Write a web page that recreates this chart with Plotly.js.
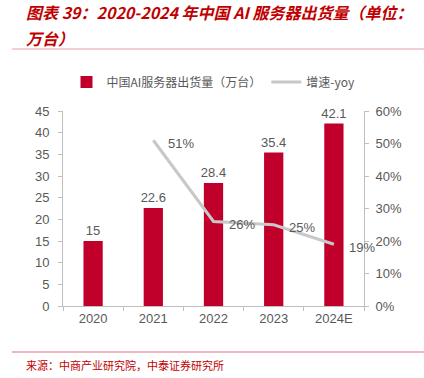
<!DOCTYPE html>
<html><head><meta charset="utf-8">
<script src="https://cdn.plot.ly/plotly-3.0.1.min.js"></script>
<style>html,body{margin:0;padding:0;background:#fff;}#c{width:424px;height:378px;}</style>
</head><body><div id="c"></div>
<script>
const categories = ['2020','2021','2022','2023','2024E'];
const shipments = [15, 22.6, 28.4, 35.4, 42.1];
const yoyCats = ['2021','2022','2023','2024E'];
const yoy = [51, 26, 25, 19];
const leftTicks = [0,5,10,15,20,25,30,35,40,45];
const rightTicks = [0,10,20,30,40,50,60];

const red = '#C0002A';
const gray = '#C8C8C8';
const axisGray = '#BFBFBF';
const txt = '#595959';
const font = '"Noto Sans CJK SC", "Liberation Sans", Arial, sans-serif';
const lat = '"Liberation Sans", Arial, sans-serif';

const traces = [
  {type:'bar', x:categories, y:shipments, name:'中国AI服务器出货量（万台）',
   marker:{color:red}, width:0.32,
   text:shipments.map(v=>String(v)), textposition:'outside', cliponaxis:false, constraintext:'none',
   textfont:{color:txt, size:13, family:lat}},
  {type:'scatter', mode:'lines', x:yoyCats, y:yoy, yaxis:'y2', name:'增速-yoy',
   line:{color:gray, width:3}}
];

// annotations use category index (numeric-looking category strings are misread)
const annotations = yoyCats.map((c,i)=>({x:categories.indexOf(c), y:yoy[i], yref:'y2', xref:'x',
  text:yoy[i]+'%', showarrow:false, xanchor:'left', xshift:13, yshift:-3,
  font:{color:txt, size:13, family:lat}}));

annotations.push({xref:'paper', yref:'paper', x:-0.13, y:1 + (111-12)/195, yanchor:'middle', xanchor:'left', showarrow:false,
  text:'<b><i>图表 39：2020-2024 年中国 AI 服务器出货量（单位：</i></b>', font:{color:'#C00000', size:16, family:font}});
annotations.push({xref:'paper', yref:'paper', x:-0.13, y:1 + (111-38)/195, yanchor:'middle', xanchor:'left', showarrow:false,
  text:'<b><i>万台）</i></b>', font:{color:'#C00000', size:16, family:font}});
annotations.push({xref:'paper', yref:'paper', x:-0.13, y:-(365-306)/195, yanchor:'middle', xanchor:'left', showarrow:false,
  text:'来源：中商产业研究院，中泰证券研究所', font:{color:'#C00000', size:11, family:font}});

const layout = {
  width:424, height:378,
  margin:{l:63, r:60, t:111, b:72},
  paper_bgcolor:'#fff', plot_bgcolor:'#fff',
  showlegend:true,
  legend:{orientation:'h', x:0.5, xanchor:'center', y:1 + (111-82)/195, yanchor:'middle',
    font:{size:12, color:txt, family:font}, itemwidth:30, tracegroupgap:0},
  xaxis:{type:'category', categoryorder:'array', categoryarray:categories, range:[-0.5,4.5], autorange:false,
    showline:true, linecolor:axisGray, linewidth:1, ticks:'outside', tickson:'boundaries', ticklen:4, tickcolor:axisGray,
    tickfont:{size:13, color:txt, family:lat}, showgrid:false},
  yaxis:{range:[0,45], autorange:false, tickvals:leftTicks, showgrid:false, showline:true, linecolor:axisGray,
    ticks:'outside', ticklen:4, tickcolor:axisGray, zeroline:false, ticklabelstandoff:6,
    tickfont:{size:13, color:txt, family:lat}},
  yaxis2:{overlaying:'y', side:'right', range:[0,60], autorange:false, tickvals:rightTicks, ticktext:rightTicks.map(v=>v+'%'),
    showgrid:false, showline:true, linecolor:axisGray, ticks:'outside', ticklen:4, tickcolor:axisGray, zeroline:false,
    ticklabelstandoff:4, tickfont:{size:13, color:txt, family:lat}},
  annotations:annotations,
  shapes:[
    {type:'line', xref:'paper', yref:'paper', x0:-0.17, x1:1.2, y0:1 + (111-49)/195, y1:1 + (111-49)/195, line:{color:'#E8A0A8', width:1}},
    {type:'line', xref:'paper', yref:'paper', x0:-0.17, x1:1.2, y0:-(352-306)/195, y1:-(352-306)/195, line:{color:'#E8A0A8', width:1.5}}
  ]
};
Plotly.newPlot('c', traces, layout, {staticPlot:true});
</script></body></html>
